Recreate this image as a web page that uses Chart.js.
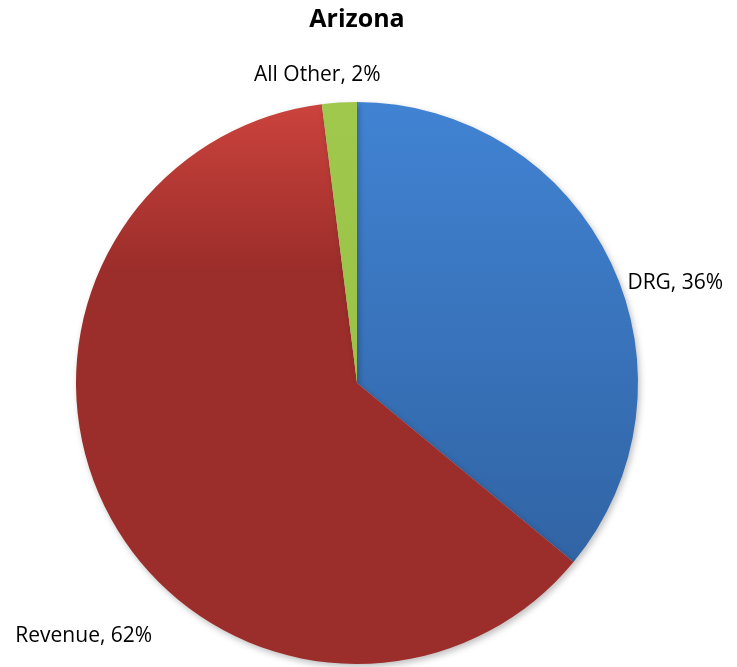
<!DOCTYPE html>
<html>
<head>
<meta charset="utf-8">
<script src="https://cdn.jsdelivr.net/npm/chart.js@4"></script>
<style>
  html, body { margin: 0; padding: 0; background: #fff; }
  #wrap { width: 737px; height: 667px; }
</style>
</head>
<body>
<div id="wrap"><canvas id="pieChart" width="737" height="667"></canvas></div>
<script>
const titulo = "Arizona";
const categorias = ["DRG", "Revenue", "All Other"];
const valores = [36, 62, 2];
const coresTopo = ["#4183d3", "#cc433d", "#9fc84c"];
const coresBase = ["#2d5d9a", "#9b2d2a", "#93bd40"];

// deslocamento do rotulo em relacao ao ponto medio do arco
const rotuloOffset = [
  { dx: 64, dy: 20 },
  { dx: -27, dy: 118 },
  { dx: -22, dy: -28 },
];

const fonte = "'Open Sans', 'Liberation Sans', sans-serif";

function gradiente(ctx, i) {
  const chart = ctx.chart;
  const area = chart.chartArea;
  if (!area) return coresBase[i];
  const g = chart.ctx.createLinearGradient(0, area.top, 0, area.bottom);
  g.addColorStop(0, coresTopo[i]);
  if (i === 1) {
    g.addColorStop(0.3, coresBase[i]);
  }
  g.addColorStop(1, coresBase[i]);
  return g;
}

const rotulosPlugin = {
  id: "rotulos",
  afterDraw(chart) {
    const ctx = chart.ctx;
    ctx.save();
    ctx.fillStyle = "#000";
    ctx.textAlign = "center";
    ctx.textBaseline = "middle";
    ctx.font = "bold 25px " + fonte;
    ctx.fillText(titulo, (chart.chartArea.left + chart.chartArea.right) / 2, 20);

    ctx.font = "21px " + fonte;
    const meta = chart.getDatasetMeta(0);
    meta.data.forEach((arc, i) => {
      const p = arc.getProps(["x", "y", "startAngle", "endAngle", "outerRadius"], true);
      const mid = (p.startAngle + p.endAngle) / 2;
      const x = p.x + Math.cos(mid) * p.outerRadius + rotuloOffset[i].dx;
      const y = p.y + Math.sin(mid) * p.outerRadius + rotuloOffset[i].dy;
      ctx.fillText(`${categorias[i]}, ${valores[i]}%`, x, y);
    });
    ctx.restore();
  },
};

const sombraPlugin = {
  id: "sombra",
  beforeDatasetsDraw(chart) {
    const ctx = chart.ctx;
    ctx.save();
    ctx.shadowColor = "rgba(0,0,0,0.25)";
    ctx.shadowBlur = 6;
    ctx.shadowOffsetX = 2;
    ctx.shadowOffsetY = 3;
  },
  afterDatasetsDraw(chart) {
    chart.ctx.restore();
  },
};

new Chart(document.getElementById("pieChart").getContext("2d"), {
  type: "pie",
  plugins: [sombraPlugin, rotulosPlugin],
  data: {
    labels: categorias,
    datasets: [
      {
        data: valores,
        backgroundColor: (ctx) => gradiente(ctx, ctx.dataIndex),
        borderWidth: 0,
      },
    ],
  },
  options: {
    responsive: false,
    animation: false,
    layout: {
      padding: { top: 102, left: 76, right: 99, bottom: 3 },
    },
    plugins: {
      legend: { display: false },
      title: { display: false },
      tooltip: { enabled: false },
    },
  },
});
</script>
</body>
</html>
